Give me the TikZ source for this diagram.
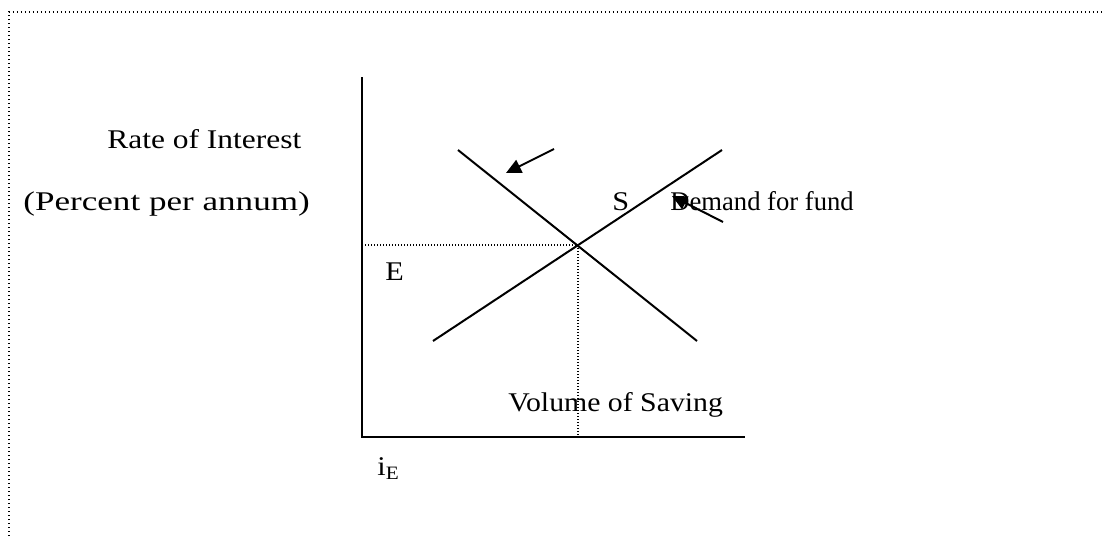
\documentclass[tikz,border=0pt]{standalone}
\usepackage{fontspec}
\usepackage{graphicx}
\setmainfont{Liberation Serif}[FakeStretch=1.12]
\usetikzlibrary{arrows.meta}
\begin{document}
\begin{tikzpicture}[x=0.5pt,y=-0.5pt,
  lbl/.style={anchor=base west,inner sep=0pt,font=\fontsize{13.5}{16}\selectfont},
  axis/.style={line width=1pt},
  curve/.style={line width=1pt},
  guide/.style={line width=0.6pt,dash pattern=on 0.5pt off 1pt},
  frame/.style={line width=0.7pt,dash pattern=on 0.7pt off 1.3pt},
  arr/.style={line width=1pt,-{Triangle[length=7.5pt,width=7pt]}}]
\useasboundingbox (0,0) rectangle (1104,536);
% frame
\coordinate (fbl) at (9,536);
\coordinate (ftl) at (9,12);
\coordinate (ftr) at (1104,12);
\draw[frame] (fbl) -- (ftl) -- (ftr);
% axes
\coordinate (O) at (362,437);
\coordinate (ytop) at (362,77);
\coordinate (xend) at (745,437);
\draw[axis] (ytop) -- (O) -- (xend);
% equilibrium guides
\coordinate (eq) at (578,245);
\coordinate (eqy) at (362,245);
\coordinate (eqx) at (578,437);
\draw[guide] (eqy) -- (eq) -- (eqx);
% supply and demand
\coordinate (s1) at (433,341);
\coordinate (s2) at (722,150);
\coordinate (d1) at (458,150);
\coordinate (d2) at (697,341);
\draw[curve] (s1) -- (s2);
\draw[curve] (d1) -- (d2);
% arrows
\coordinate (a1s) at (554,149);
\coordinate (a1e) at (506,173);
\coordinate (a2s) at (723,222);
\coordinate (a2e) at (672,196);
\draw[arr] (a1s) -- (a1e);
% labels
\node[lbl] (rate) at (107,148) {\scalebox{1.04}[1]{Rate of Interest}};
\node[lbl] (pct) at (23,210) {\scalebox{1.16}[1]{(Percent per annum)}};
\node[lbl] (S) at (612,210) {S};
\node[lbl] (dem) at (670,210) {\scalebox{0.88}[1]{Demand for fund}};
\node[lbl] (E) at (385,280) {E};
\node[lbl] (vol) at (508,411) {\scalebox{0.985}[1]{Volume of Saving}};
\node[lbl] (iE) at (377,475) {i\textsubscript{E}};
\draw[arr] (a2s) -- (a2e);
\end{tikzpicture}
\end{document}
